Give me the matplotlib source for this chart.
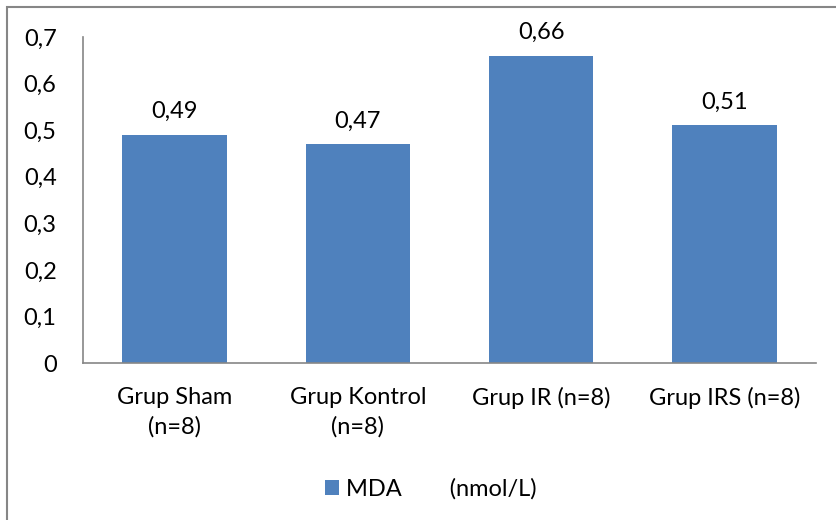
import matplotlib.pyplot as plt
from matplotlib.patches import Rectangle
from matplotlib.ticker import FixedLocator, FuncFormatter

# data
groups = ['Grup Sham\n(n=8)', 'Grup Kontrol\n(n=8)', 'Grup IR (n=8)', 'Grup IRS (n=8)']
mda = [0.49, 0.47, 0.66, 0.51]
series_label = 'MDA        (nmol/L)'
yticks = [0, 0.1, 0.2, 0.3, 0.4, 0.5, 0.6, 0.7]

bar_color = '#4f81bd'
axis_color = '#868686'

plt.rcParams['font.family'] = ['Lato', 'DejaVu Sans']
fs = 17

fig = plt.figure(figsize=(8.37, 5.2), dpi=100)
ax = fig.add_axes([83 / 837, 1 - 363 / 520, (816 - 83) / 837, (363 - 37) / 520])

x = list(range(len(groups)))
bars = ax.bar(x, mda, width=0.57, color=bar_color, label=series_label, zorder=2)

ax.set_xlim(-0.5, len(groups) - 0.5)
ax.set_ylim(0, 0.7)
ax.yaxis.set_major_locator(FixedLocator(yticks))
ax.yaxis.set_major_formatter(FuncFormatter(lambda v, p: ('%g' % round(v, 2)).replace('.', ',')))

ax.set_xticks(x)
ax.set_xticklabels(groups, fontsize=fs, linespacing=1.5)
ax.tick_params(axis='x', length=0, pad=17)
ax.tick_params(axis='y', length=0, pad=19, labelsize=fs)

for s in ['top', 'right']:
    ax.spines[s].set_visible(False)
for s in ['left', 'bottom']:
    ax.spines[s].set_color(axis_color)
    ax.spines[s].set_linewidth(1.2)

for b, v in zip(bars, mda):
    ax.annotate(('%.2f' % v).replace('.', ','),
                (b.get_x() + b.get_width() / 2, v),
                xytext=(0, 9), textcoords='offset points',
                ha='center', va='bottom', fontsize=fs)

leg = fig.legend(handles=[bars], labels=[series_label], loc='center',
                 bbox_to_anchor=(431 / 837, 1 - 489 / 520), frameon=False,
                 fontsize=fs, handlelength=0.6, handleheight=0.6, handletextpad=0.3)

# outer chart frame (clipped at right and bottom like the original)
fig.patches.append(Rectangle((7 / 837, -0.05), 1.0, 1 - 7 / 520 + 0.05,
                             transform=fig.transFigure, fill=False,
                             edgecolor=axis_color, linewidth=1.5))

fig.savefig('out.png', dpi=100)
